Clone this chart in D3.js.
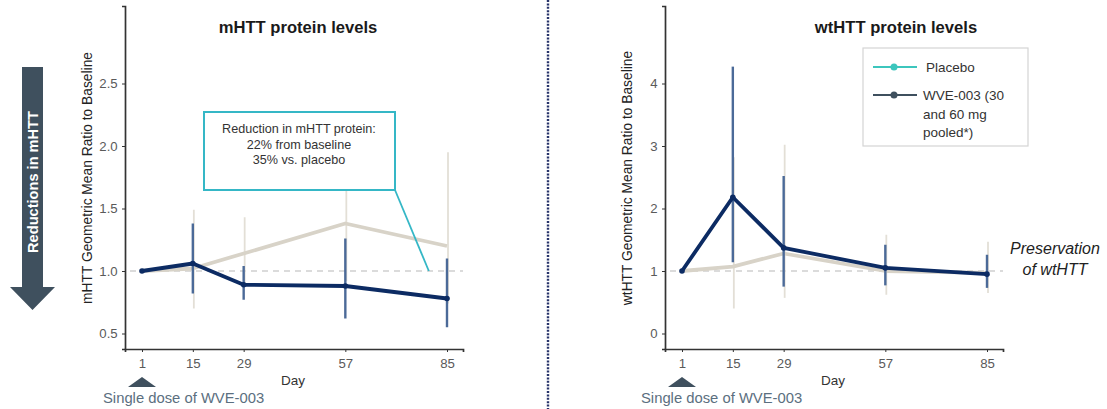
<!DOCTYPE html>
<html>
<head>
<meta charset="utf-8">
<script src="https://cdn.jsdelivr.net/npm/d3@7"></script>
<style>
  html, body { margin: 0; padding: 0; background: #fff; }
  svg { display: block; font-family: "Liberation Sans", Arial, sans-serif; }
</style>
</head>
<body>
<svg id="chart" width="1107" height="409"></svg>
<script>
// Study days on the x axis
const days = [1, 15, 29, 57, 85];
const dayTicks = ["1", "15", "29", "57", "85"];

// mHTT: geometric mean ratio to baseline, with interval bounds
const mhttDrug    = [1.00, 1.06, 0.89, 0.88, 0.78];
const mhttDrugLo  = [1.00, 0.82, 0.77, 0.62, 0.55];
const mhttDrugHi  = [1.00, 1.38, 1.04, 1.26, 1.10];
const mhttPbo     = [1.00, 1.02, 1.14, 1.38, 1.20];
const mhttPboLo   = [1.00, 0.70, 0.88, 0.92, 0.74];
const mhttPboHi   = [1.00, 1.49, 1.43, 2.05, 1.95];
const mhttTicks   = [0.5, 1.0, 1.5, 2.0, 2.5];

// wtHTT: geometric mean ratio to baseline, with interval bounds
const wthttDrug   = [1.00, 2.18, 1.37, 1.05, 0.95];
const wthttDrugLo = [1.00, 1.14, 0.75, 0.77, 0.73];
const wthttDrugHi = [1.00, 4.27, 2.52, 1.42, 1.26];
const wthttPbo    = [1.00, 1.07, 1.28, 1.00, 0.97];
const wthttPboLo  = [1.00, 0.40, 0.57, 0.62, 0.65];
const wthttPboHi  = [1.00, 2.82, 3.02, 1.58, 1.47];
const wthttTicks  = [0, 1, 2, 3, 4];

const seriesNames = ["Placebo", "WVE-003 (30", "and 60 mg", "pooled*)"];

const C = {
  navy: "#0c2b63",
  navyBar: "#4b6a98",
  beige: "#d8d3c8",
  beigeBar: "#e3dfd6",
  axis: "#333",
  tick: "#5a5a5a",
  slate: "#3f505e",
  teal: "#3cc6bd",
  callout: "#35b7c6"
};

const svg = d3.select("#chart");

function panel(opt) {
  const g = svg.append("g");
  // base scales fixed by the labelled values, then stretched to the axis extents
  const xb = d3.scaleLinear().domain([1, 85]).range([opt.x0, opt.x0 + 305]);
  const x = d3.scaleLinear().domain([xb.invert(opt.x0 - 17), xb.invert(opt.x0 + 321)]).range([opt.x0 - 17, opt.x0 + 321]);
  const yb = d3.scaleLinear().domain(opt.yRef).range([333.5, 83.5]);
  const y = d3.scaleLinear().domain([yb.invert(349), yb.invert(6)]).range([349, 6]);

  // reference line at ratio 1
  g.append("line")
    .attr("x1", x(1) - 12).attr("x2", x(85) + 16)
    .attr("y1", y(1)).attr("y2", y(1))
    .attr("stroke", "#cfcfcf").attr("stroke-width", 1.6)
    .attr("stroke-dasharray", "6,5");

  // axes
  const ax = g.append("g").attr("transform", `translate(0,349)`)
    .call(d3.axisBottom(x).tickValues(days).tickFormat((d, i) => dayTicks[i]).tickSizeOuter(0).tickSize(3));
  const ay = g.append("g").attr("transform", `translate(${opt.x0 - 17},0)`)
    .call(d3.axisLeft(y).tickValues(opt.ticks).tickFormat(opt.fmt).tickSizeOuter(0).tickSize(3));
  [ax, ay].forEach(a => {
    a.select(".domain").attr("stroke", C.axis).attr("stroke-width", 1.7);
    a.selectAll(".tick line").attr("stroke", C.axis).attr("stroke-width", 1);
    a.selectAll(".tick text").attr("fill", C.tick).style("font-size", "13.2px");
  });
  ax.selectAll(".tick text").attr("dy", "1.0em");
  ay.selectAll(".tick text").attr("dx", "-0.1em");

  // placebo interval bars and line
  const idx = d3.range(days.length).filter(i => i > 0);
  g.append("g").selectAll("line").data(idx).join("line")
    .attr("x1", i => x(days[i]) + 1).attr("x2", i => x(days[i]) + 1)
    .attr("y1", i => y(opt.pboLo[i])).attr("y2", i => y(opt.pboHi[i]))
    .attr("stroke", C.beigeBar).attr("stroke-width", 1.8);
  const line = d3.line().x((d, i) => x(days[i])).y(d => y(d));
  g.append("path").datum(opt.pbo).attr("d", line)
    .attr("fill", "none").attr("stroke", C.beige).attr("stroke-width", 3.8)
    .attr("stroke-linejoin", "round");

  // drug interval bars and line
  g.append("g").selectAll("line").data(idx).join("line")
    .attr("x1", i => x(days[i])).attr("x2", i => x(days[i]))
    .attr("y1", i => y(opt.drugLo[i])).attr("y2", i => y(opt.drugHi[i]))
    .attr("stroke", C.navyBar).attr("stroke-width", 2.4);
  g.append("path").datum(opt.drug).attr("d", line)
    .attr("fill", "none").attr("stroke", C.navy).attr("stroke-width", 3.8)
    .attr("stroke-linejoin", "round");
  g.append("g").selectAll("circle").data(opt.drug).join("circle")
    .attr("cx", (d, i) => x(days[i])).attr("cy", d => y(d)).attr("r", 2.8)
    .attr("fill", C.navy);

  // title
  g.append("text").attr("x", opt.titleX).attr("y", 33)
    .attr("text-anchor", "middle").attr("font-weight", "bold")
    .style("font-size", "16.6px").attr("fill", "#1a1a1a").text(opt.title);

  // y-axis label
  g.append("text")
    .attr("transform", `translate(${opt.x0 - 50},178) rotate(-90)`)
    .attr("text-anchor", "middle").style("font-size", "13.8px").attr("fill", "#222")
    .text(opt.yLabel);

  // x-axis label
  g.append("text").attr("x", opt.x0 + 151).attr("y", 385)
    .attr("text-anchor", "middle").style("font-size", "13.5px").attr("fill", "#333").text("Day");

  // dosing marker
  const cx = x(1);
  g.append("path").attr("d", `M${cx - 14},387 L${cx},377 L${cx + 14},387 Z`).attr("fill", C.slate);
  g.append("text").attr("x", opt.doseX).attr("y", 403)
    .style("font-size", "14.8px").attr("fill", "#5b6f80").text("Single dose of WVE-003");

  return { g, x, y };
}

// mHTT panel
const L = panel({
  x0: 142, yRef: [0.5, 2.5], ticks: mhttTicks, fmt: d3.format(".1f"),
  drug: mhttDrug, drugLo: mhttDrugLo, drugHi: mhttDrugHi,
  pbo: mhttPbo, pboLo: mhttPboLo, pboHi: mhttPboHi,
  title: "mHTT protein levels", titleX: 298,
  yLabel: "mHTT Geometric Mean Ratio to Baseline", doseX: 103
});

// callout box with pointer to day-80 baseline
L.g.append("line")
  .attr("x1", 395).attr("y1", 190).attr("x2", L.x(80)).attr("y2", L.y(1))
  .attr("stroke", C.callout).attr("stroke-width", 1.8);
L.g.append("rect").attr("x", 204).attr("y", 112).attr("width", 191).attr("height", 78)
  .attr("fill", "#fff").attr("stroke", C.callout).attr("stroke-width", 2);
["Reduction in mHTT protein:", "22% from baseline", "35% vs. placebo"].forEach((t, i) => {
  L.g.append("text").attr("x", 299).attr("y", 133 + i * 15.5)
    .attr("text-anchor", "middle").style("font-size", "12.6px").attr("fill", "#333").text(t);
});

// wtHTT panel
const R = panel({
  x0: 682, yRef: [0, 4], ticks: wthttTicks, fmt: d3.format("d"),
  drug: wthttDrug, drugLo: wthttDrugLo, drugHi: wthttDrugHi,
  pbo: wthttPbo, pboLo: wthttPboLo, pboHi: wthttPboHi,
  title: "wtHTT protein levels", titleX: 896,
  yLabel: "wtHTT Geometric Mean Ratio to Baseline", doseX: 641
});

// legend
const lg = svg.append("g");
lg.append("rect").attr("x", 863).attr("y", 48).attr("width", 165).attr("height", 98)
  .attr("fill", "#fff").attr("stroke", "#d4d4d4").attr("stroke-width", 1.2);
[[C.teal, 67], [C.slate, 95]].forEach(([col, yy]) => {
  lg.append("line").attr("x1", 873).attr("x2", 917).attr("y1", yy).attr("y2", yy)
    .attr("stroke", col).attr("stroke-width", 2);
  lg.append("circle").attr("cx", 894).attr("cy", yy).attr("r", 3.5).attr("fill", col);
});
seriesNames.forEach((t, i) => {
  const yy = i === 0 ? 72 : 100 + (i - 1) * 18.5;
  lg.append("text").attr("x", i === 0 ? 926 : 923).attr("y", yy)
    .style("font-size", "13.5px").attr("fill", "#333").text(t);
});

// annotation
["Preservation", "of wtHTT"].forEach((t, i) => {
  svg.append("text").attr("x", 1055).attr("y", 254 + i * 21)
    .attr("text-anchor", "middle").attr("font-style", "italic")
    .style("font-size", "16px").attr("fill", "#222").text(t);
});

// arrow: reductions
const ar = svg.append("g");
ar.append("path")
  .attr("d", "M22,67 L43,67 L43,287 L55,287 L32.5,310 L10,287 L22,287 Z")
  .attr("fill", C.slate);
ar.append("text").attr("transform", "translate(37.5,182) rotate(-90)")
  .attr("text-anchor", "middle").attr("font-weight", "bold")
  .style("font-size", "14.6px").attr("fill", "#fff").text("Reductions in mHTT");

// dotted divider
svg.append("line").attr("x1", 548).attr("x2", 548).attr("y1", 0).attr("y2", 409)
  .attr("stroke", "#27336a").attr("stroke-width", 2.4).attr("stroke-dasharray", "2,1.4");
</script>
</body>
</html>
